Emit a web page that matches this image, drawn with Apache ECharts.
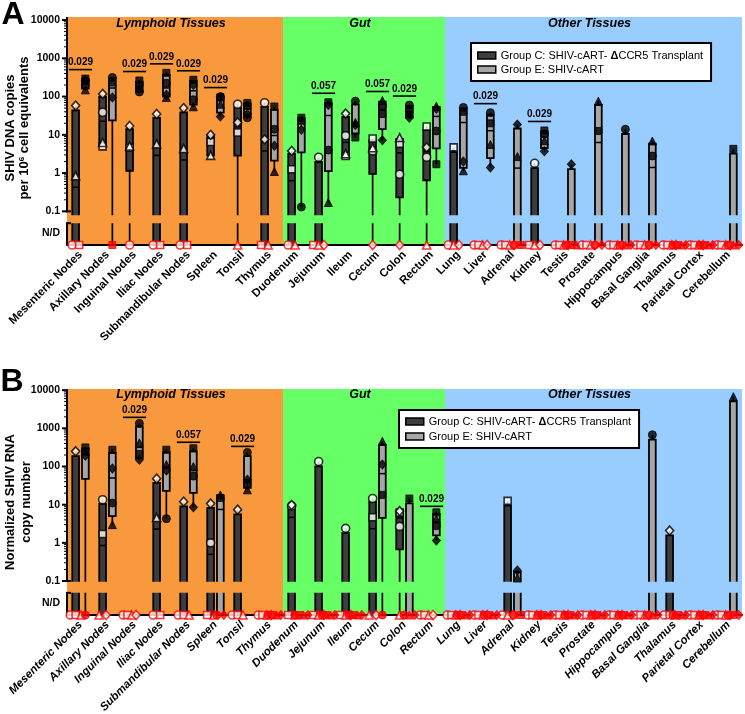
<!DOCTYPE html>
<html>
<head>
<meta charset="utf-8">
<script src="https://cdn.jsdelivr.net/npm/echarts@6.0.0/dist/echarts.min.js"></script>
<style>
html,body{margin:0;padding:0;background:#ffffff;}
#chart{width:745px;height:714px;}
</style>
</head>
<body>
<div id="chart"></div>
<script>
// ================= DATA =================
const categories = ['Mesenteric Nodes','Axillary Nodes','Inguinal Nodes','Iliac Nodes','Submandibular Nodes','Spleen','Tonsil','Thymus',
  'Duodenum','Jejunum','Ileum','Cecum','Colon','Rectum',
  'Lung','Liver','Adrenal','Kidney','Testis','Prostate','Hippocampus','Basal Ganglia','Thalamus','Parietal Cortex','Cerebellum'];
const regionNames = ['Lymphoid Tissues','Gut','Other Tissues'];
const regionStart = [0, 8, 14];
const regionEnd = [7, 13, 24];
const groupNames = ['Group C: SHIV-cART- ΔCCR5 Transplant', 'Group E: SHIV-cART'];
const yTickValues = [0.1, 1, 10, 100, 1000, 10000];
const yTickLabels = ['0.1', '1', '10', '100', '1000', '10000'];
const ndLabel = 'N/D';
// value 0 = N/D (not detected), null = no sample

// Panel A: SHIV DNA copies per 10^6 cell equivalents
const dnaC_circle   = [0, 39, 0, 0, 0, null, 63, 69, 0, 2.6, 9.5, 3.8, 0.93, 2.6, 0, 0, 0, 1.8, 0, 0, 0, 0, 0, 0, 0];
const dnaC_square   = [0, 5.0, 4.6, 0, 0, 6.5, 11.5, 0, 1.26, 0, 2.8, 8.0, 5.8, 16.5, 4.7, 0, 0, 0, 0, 0, 0, 0, 0, 0, 0];
const dnaC_triangle = [0.85, 6.3, 5.1, 5.8, 4.4, 2.9, 0, 0, 0, 0, 3.2, 4.6, 8.5, 0, 0, 0, 0, 0, 0, 0, 0, 0, 0, 0, 0];
const dnaC_diamond  = [58, 117, 17, 35, 50, 10, 21, 7.6, 3.8, 0, 36, 0, 0, 4.7, 0, 0, 0, 0, 0, 0, 0, 0, 0, 0, 0];
const dnaE_circle   = [260, 316, 132, 224, 83, 100, 28, 14, 0.13, 4, 76, 56, 60, 12.6, 52, 38, 0, 10.5, 0, 0, 14, 2.8, 0, 0, 0];
const dnaE_square   = [295, 0, 263, 417, 275, 95, 68, 55, 28, 71, 8.5, 35, 45, 1.7, 40, 20, 0, 13, 0, 12.6, 0, 0, 0, 0, 4.3];
const dnaE_triangle = [150, 240, 166, 95, 54, 63, 60, 1.1, 25, 0.17, 21, 79, 35, 56, 1.15, 5.6, 2.7, 7, 0, 76, 0, 6.9, 0, 0, 0];
const dnaE_diamond  = [200, 95, 200, 112, 200, 30, 35, 5.2, 13.5, 60, 18, 7.2, 28, 48, 2.0, 1.4, 18.6, 3.7, 1.7, 0, 0, 0, 0, 0, 0];
const sigA_cat  = [0, 2, 3, 4, 5, 9, 11, 12, 15, 17];
const sigA_text = ['0.029','0.029','0.029','0.029','0.029','0.057','0.057','0.029','0.029','0.029'];

// Panel B: normalized SHIV RNA copy number
const rnaC_circle   = [0, 13.5, 0, 0, 0, 1.0, 0, 0, 9.3, 135, 2.4, 14.5, 2.7, 0, 0, 0, 0, 0, 0, 0, 0, 0, 0, 0, 0];
const rnaC_square   = [0, 1.7, 0, 0, 0, 0, 0, 0, 0, 0, 0, 4.7, 6.2, 0, 0, 0, 12.6, 0, 0, 0, 0, 0, 0, 0, 0];
const rnaC_triangle = [0, 0, 0, 4.6, 0, 0, 0, 0, 0, 0, 0, 0, 0, 0, 0, 0, 0, 0, 0, 0, 0, 0, 0, 0, 0];
const rnaC_diamond  = [250, 0, 0, 48, 12, 10.7, 7.4, 0, 9.8, 0, 0, 0, 6.8, 0, 0, 0, 0, 0, 0, 0, 0, 0, 2.1, 0, 0];
const rnaE_circle   = [0, 11, 1350, 4.3, 56, 0, 234, 0, 0, 0, 0, 0, 0, 2.8, 0, 0, 0, 0, 0, 0, 0, 676, 0, 0, 0];
const rnaE_square   = [316, 275, 214, 275, 300, 15, 37, 0, 0, 0, 0, 18, 14.5, 6.3, 0, 0, 0, 0, 0, 0, 0, 0, 0, 0, 0];
const rnaE_triangle = [250, 3.0, 417, 112, 100, 18, 24.5, 0, 0, 0, 0, 457, 0, 4.2, 0, 0, 0.12, 0, 0, 0, 0, 0, 0, 0, 6760];
const rnaE_diamond  = [190, 89, 150, 79, 8.5, 0, 45, 0, 0, 0, 0, 112, 0, 1.15, 0, 0, 0.19, 0, 0, 0, 0, 0, 0, 0, 0];
const sigB_cat  = [2, 4, 6, 13];
const sigB_text = ['0.029','0.057','0.029','0.029'];

// ================= STYLE / LAYOUT =================
const FONT = "'Liberation Sans', Arial, Helvetica, sans-serif";
const REGION_COLORS = ['#F7993C', '#66FF66', '#99CCFF'];
const COL_C = '#3d3d3d', COL_E = '#a6a6a6', RED = '#ff0000';
const GROUP_OFF = [-0.18, 0.18];
const BOX_W = 0.25;
const SHAPES = [
  {symbol: 'circle', size: 8},
  {symbol: 'rect', size: 7},
  {symbol: 'triangle', size: 8},
  {symbol: 'diamond', size: [8, 9]}
];
const ND_LABEL_LEVEL = -1.58;
const TITLE_DX = -4;

const panels = [
  {top: 17, height: 228, yMin: -1.88, yMax: 4.08, breakTop: -1.1, breakBottom: -1.31, italic: false,
   legend: {left: 471, top: 43, padding: [7, 8, 6, 6], gap: 3}, sigOffset: 9, titleDY: 7,
   C: [dnaC_circle, dnaC_square, dnaC_triangle, dnaC_diamond], E: [dnaE_circle, dnaE_square, dnaE_triangle, dnaE_diamond],
   sigCat: sigA_cat, sigText: sigA_text},
  {top: 389, height: 226, yMin: -1.89, yMax: 4.03, breakTop: -1.02, breakBottom: -1.31, italic: true,
   legend: {left: 399, top: 410, padding: [6, 8, 6, 6], gap: 4}, sigOffset: 6, titleDY: 6,
   C: [rnaC_circle, rnaC_square, rnaC_triangle, rnaC_diamond], E: [rnaE_circle, rnaE_square, rnaE_triangle, rnaE_diamond],
   sigCat: sigB_cat, sigText: sigB_text}
];

// ================= HELPERS =================
const lg = v => Math.round(Math.log10(v) * 1e6) / 1e6;
const majorLogs = yTickValues.map(lg);
const minorLogs = [];
for (let d = -1; d < 4; d++) for (let m = 2; m <= 9; m++) minorLogs.push(Math.log10(m * Math.pow(10, d)));

function quant(sorted, p) { // GraphPad-style quartiles
  const n = sorted.length, pos = p * (n + 1);
  if (pos <= 1) return sorted[0];
  if (pos >= n) return sorted[n - 1];
  const lo = Math.floor(pos), fr = pos - lo;
  return sorted[lo - 1] + fr * (sorted[lo] - sorted[lo - 1]);
}

function boxItems(arrs, yMin, xOff) {
  const out = [];
  const L = v => v > 0 ? Math.max(Math.log10(v), yMin) : yMin;
  for (let i = 0; i < categories.length; i++) {
    const vals = arrs.map(a => a[i]).filter(v => v !== null && v !== undefined).sort((a, b) => a - b);
    if (!vals.length || vals[vals.length - 1] <= 0) continue;
    out.push([i + xOff, L(vals[0]), L(quant(vals, 0.25)), L(quant(vals, 0.5)), L(quant(vals, 0.75)), L(vals[vals.length - 1])]);
  }
  return out;
}

function pointItems(arrs, yMin, xOff, filled) {
  const out = [];
  for (let i = 0; i < categories.length; i++) {
    const nd = [];
    arrs.forEach((a, k) => {
      const v = a[i];
      if (v === null || v === undefined) return;
      if (v > 0) {
        out.push({value: [i + xOff, Math.log10(v)], symbol: SHAPES[k].symbol, symbolSize: SHAPES[k].size,
          itemStyle: filled ? {color: '#000', borderColor: '#000', borderWidth: 1}
                            : {color: '#fff', borderColor: '#000', borderWidth: 1.6}});
      } else nd.push(k);
    });
    const m = nd.length, sp = m <= 2 ? 0.26 : (m === 3 ? 0.2 : 0.16);
    nd.forEach((k, j) => {
      out.push({value: [i + xOff + (j - (m - 1) / 2) * sp, yMin], symbol: SHAPES[k].symbol, symbolSize: SHAPES[k].size,
        itemStyle: filled ? {color: RED, borderColor: RED, borderWidth: 1}
                          : {color: '#fff', borderColor: RED, borderWidth: 1.6}});
    });
  }
  return out;
}

function boxRenderer(fill) {
  return function (params, api) {
    const x = api.value(0);
    const pMin = api.coord([x, api.value(1)]);
    const pQ1 = api.coord([x, api.value(2)]);
    const pMed = api.coord([x, api.value(3)]);
    const pQ3 = api.coord([x, api.value(4)]);
    const pMax = api.coord([x, api.value(5)]);
    const w = api.size([BOX_W, 0])[0];
    return {type: 'group', children: [
      {type: 'line', shape: {x1: pMin[0], y1: pMin[1], x2: pMax[0], y2: pMax[1]}, style: {stroke: '#000', lineWidth: 1.7}},
      {type: 'rect', shape: {x: pQ3[0] - w / 2, y: pQ3[1], width: w, height: Math.max(pQ1[1] - pQ3[1], 0.5)},
       style: {fill: fill, stroke: '#000', lineWidth: 1.8}},
      {type: 'line', shape: {x1: pMed[0] - w / 2, y1: pMed[1], x2: pMed[0] + w / 2, y2: pMed[1]}, style: {stroke: '#000', lineWidth: 1.5}}
    ]};
  };
}

// ================= BUILD OPTION =================
const grids = [], xAxes = [], yAxes = [], series = [], legends = [];

panels.forEach((P, p) => {
  grids.push({left: 67, top: P.top, width: 675, height: P.height, containLabel: false, outerBoundsMode: 'none'});
  xAxes.push({
    gridIndex: p, type: 'category', data: categories, boundaryGap: true, z: 10,
    axisLine: {onZero: false, lineStyle: {color: '#000', width: 2}},
    axisTick: {alignWithLabel: true, interval: 0, length: 5, lineStyle: {color: '#000', width: 2}},
    axisLabel: {interval: 0, rotate: 45, margin: 8, color: '#000', fontFamily: FONT, fontWeight: 'bold',
                fontStyle: P.italic ? 'italic' : 'normal', fontSize: 11.5},
    splitLine: {show: false}
  });
  xAxes.push({gridIndex: p, type: 'value', min: -0.5, max: 24.5, show: false});
  const fmt = v => {
    const k = majorLogs.findIndex(t => Math.abs(t - v) < 1e-6);
    if (k >= 0) return yTickLabels[k];
    if (Math.abs(v - ND_LABEL_LEVEL) < 1e-6) return ndLabel;
    return '';
  };
  yAxes.push({
    gridIndex: p, type: 'value', position: 'left', min: P.yMin, max: P.yMax, z: 10,
    axisLine: {show: false}, splitLine: {show: false}, axisTick: {show: false},
    axisLabel: {customValues: majorLogs.concat([ND_LABEL_LEVEL]), formatter: fmt, margin: 7, color: '#000',
                fontFamily: FONT, fontWeight: 'bold', fontSize: 10.5}
  });
  const xi = 2 * p + 1, yi = p;

  // background regions + region titles
  series.push({
    type: 'custom', xAxisIndex: xi, yAxisIndex: yi, z: 0, silent: true, clip: false,
    data: regionStart.map((s, k) => [s, regionEnd[k], k]),
    renderItem: (params, api) => {
      const k = api.value(2);
      const a = api.coord([api.value(0) - 0.5, P.yMax]);
      const b = api.coord([api.value(1) + 0.5, P.yMin]);
      return {type: 'group', children: [
        {type: 'rect', shape: {x: a[0], y: a[1], width: b[0] - a[0], height: b[1] - a[1]}, style: {fill: REGION_COLORS[k]}},
        {type: 'text', x: (a[0] + b[0]) / 2 + TITLE_DX, y: a[1] + P.titleDY,
         style: {text: regionNames[k], fontFamily: FONT, fontSize: 12.5, fontWeight: 'bold', fontStyle: 'italic',
                 fill: '#000', align: 'center', verticalAlign: 'middle'}}
      ]};
    }
  });
  // box plots
  [P.C, P.E].forEach((arrs, g) => {
    series.push({
      name: groupNames[g], type: 'custom', xAxisIndex: xi, yAxisIndex: yi, z: 3, silent: true, clip: false,
      itemStyle: {color: g === 0 ? COL_C : COL_E},
      data: boxItems(arrs, P.yMin, GROUP_OFF[g]),
      renderItem: boxRenderer(g === 0 ? COL_C : COL_E)
    });
  });
  // axis break band
  series.push({
    type: 'custom', xAxisIndex: xi, yAxisIndex: yi, z: 4, silent: true, clip: false,
    data: regionStart.map((s, k) => [s, regionEnd[k], k]),
    renderItem: (params, api) => {
      const k = api.value(2);
      const a = api.coord([api.value(0) - 0.5, P.breakTop]);
      const b = api.coord([api.value(1) + 0.5, P.breakBottom]);
      return {type: 'rect', shape: {x: a[0] + 1, y: a[1], width: b[0] - a[0] - 1, height: b[1] - a[1]}, style: {fill: REGION_COLORS[k]}};
    }
  });
  // significance annotations
  const all = P.C.concat(P.E);
  series.push({
    type: 'custom', xAxisIndex: xi, yAxisIndex: yi, z: 6, silent: true, clip: false,
    data: P.sigCat.map(c => [c, Math.log10(Math.max.apply(null, all.map(a => a[c] || 0)))]),
    renderItem: (params, api) => {
      const pt = api.coord([api.value(0), api.value(1)]);
      const half = api.size([0.43, 0])[0];
      const y = pt[1] - P.sigOffset;
      return {type: 'group', children: [
        {type: 'line', shape: {x1: pt[0] - half, y1: y, x2: pt[0] + half, y2: y}, style: {stroke: '#000', lineWidth: 1.6}},
        {type: 'text', x: pt[0], y: y - 2,
         style: {text: P.sigText[params.dataIndex], fontFamily: FONT, fontSize: 10, fontWeight: 'bold',
                 fill: '#000', align: 'center', verticalAlign: 'bottom'}}
      ]};
    }
  });
  // broken y axis line with major / minor log ticks
  series.push({
    type: 'custom', xAxisIndex: xi, yAxisIndex: yi, z: 12, silent: true, clip: false,
    data: [[0]],
    renderItem: (params, api) => {
      const t = api.coord([-0.5, P.yMax]), u = api.coord([-0.5, -1]);
      const l = api.coord([-0.5, P.breakBottom]), b = api.coord([-0.5, P.yMin]);
      const st = {stroke: '#000', lineWidth: 2};
      const kids = [
        {type: 'line', shape: {x1: t[0], y1: t[1], x2: u[0], y2: u[1] + 1}, style: st},
        {type: 'line', shape: {x1: u[0] - 1, y1: u[1], x2: u[0] + 4, y2: u[1]}, style: st},
        {type: 'line', shape: {x1: l[0], y1: l[1], x2: b[0], y2: b[1]}, style: st},
        {type: 'line', shape: {x1: l[0] - 1, y1: l[1], x2: l[0] + 4, y2: l[1]}, style: st}
      ];
      majorLogs.forEach(v => {
        const q = api.coord([-0.5, v]);
        kids.push({type: 'line', shape: {x1: q[0] - 5, y1: q[1], x2: q[0], y2: q[1]}, style: st});
      });
      minorLogs.forEach(v => {
        const q = api.coord([-0.5, v]);
        kids.push({type: 'line', shape: {x1: q[0] - 3, y1: q[1], x2: q[0], y2: q[1]}, style: {stroke: '#000', lineWidth: 1}});
      });
      return {type: 'group', children: kids};
    }
  });
  // individual animals
  [P.C, P.E].forEach((arrs, g) => {
    series.push({
      name: 'points ' + g, type: 'scatter', xAxisIndex: xi, yAxisIndex: yi, z: 20, silent: true, clip: false,
      data: pointItems(arrs, P.yMin, GROUP_OFF[g], g === 1)
    });
  });
  legends.push({
    data: [
      {name: groupNames[0], icon: 'rect', itemStyle: {color: COL_C, borderColor: '#000', borderWidth: 1.5}},
      {name: groupNames[1], icon: 'rect', itemStyle: {color: COL_E, borderColor: '#000', borderWidth: 1.5}}
    ],
    orient: 'vertical', left: P.legend.left, top: P.legend.top, padding: P.legend.padding, itemGap: P.legend.gap,
    itemWidth: 18, itemHeight: 7, backgroundColor: '#fff', borderColor: '#000', borderWidth: 2, borderRadius: 0,
    selectedMode: false,
    formatter: n => n.replace('Δ', '{d|Δ}'),
    textStyle: {color: '#000', fontFamily: FONT, fontSize: 11,
                rich: {d: {color: '#000', fontFamily: FONT, fontSize: 11, fontWeight: 'bold'}}}
  });
});

const titleStyle = (txt, extra) => Object.assign({text: txt, fontFamily: FONT, fontSize: 13, fontWeight: 'bold',
  fill: '#000', align: 'center', verticalAlign: 'middle'}, extra || {});

const option = {
  animation: false,
  backgroundColor: '#fff',
  grid: grids, xAxis: xAxes, yAxis: yAxes, series: series, legend: legends,
  graphic: [
    {type: 'text', x: 13, y: 15, style: {text: 'A', fontFamily: FONT, fontSize: 32, fontWeight: 'bold', fill: '#000', align: 'center', verticalAlign: 'middle'}},
    {type: 'text', x: 12, y: 382, style: {text: 'B', fontFamily: FONT, fontSize: 32, fontWeight: 'bold', fill: '#000', align: 'center', verticalAlign: 'middle'}},
    {type: 'text', x: 10, y: 128, rotation: Math.PI / 2, style: titleStyle('SHIV DNA copies')},
    {type: 'text', x: 24, y: 128, rotation: Math.PI / 2,
     style: titleStyle('per 10{s|6} cell equivalents', {rich: {s: {fontFamily: FONT, fontSize: 8, fontWeight: 'bold', verticalAlign: 'top', lineHeight: 9}}})},
    {type: 'text', x: 10, y: 502, rotation: Math.PI / 2, style: titleStyle('Normalized SHIV RNA')},
    {type: 'text', x: 26, y: 502, rotation: Math.PI / 2, style: titleStyle('copy number')}
  ]
};

const chart = echarts.init(document.getElementById('chart'), null, {renderer: 'canvas', width: 745, height: 714});
chart.setOption(option);
</script>
</body>
</html>
